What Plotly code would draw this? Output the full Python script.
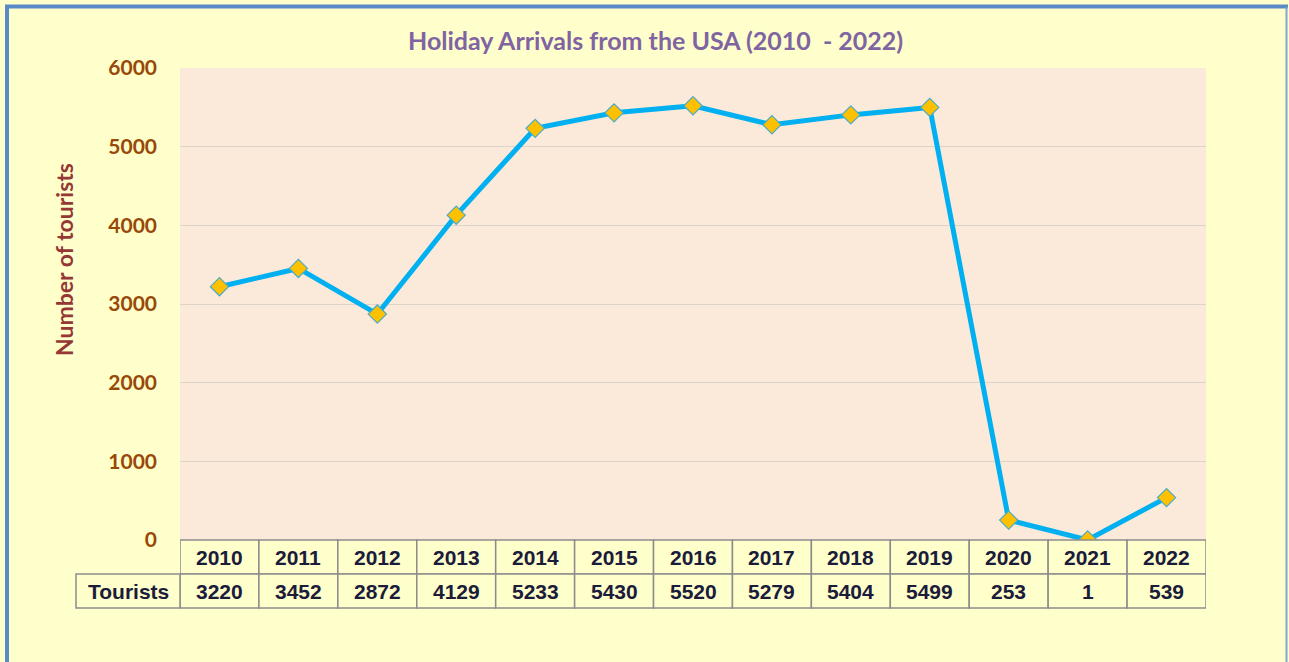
import plotly.graph_objects as go

years = ["2010", "2011", "2012", "2013", "2014", "2015", "2016", "2017", "2018", "2019", "2020", "2021", "2022"]
tourists = [3220, 3452, 2872, 4129, 5233, 5430, 5520, 5279, 5404, 5499, 253, 1, 539]
y_ticks = [0, 1000, 2000, 3000, 4000, 5000, 6000]
series_name = "Tourists"
title_text = "Holiday Arrivals from the USA (2010  - 2022)"
y_title = "Number of tourists"

W, H = 1289, 662
L, R, T, B = 180, 1206, 68, 540
pw, ph = R - L, B - T
n = len(years)
catw = pw / n

def px_to_paper_x(px):
    return (px - L) / pw

def px_to_paper_y(py):
    return (B - py) / ph

xs = list(range(n))

fig = go.Figure()
fig.add_trace(go.Scatter(
    x=xs, y=tourists, mode="lines+markers",
    line=dict(color="#00B0F0", width=5),
    marker=dict(symbol="diamond", size=14, color="#FFC000",
                line=dict(color="#4BACC6", width=1.2)),
    cliponaxis=False, showlegend=False, name=series_name,
))

shapes = []
annotations = []
row_h = 34
y0p = px_to_paper_y(B)
y1p = px_to_paper_y(B + row_h)
y2p = px_to_paper_y(B + 2 * row_h)
line_style = dict(color="#8C8C8C", width=1.5)
text_font = dict(family="Liberation Sans, Arial", size=21, color="#1B1B3A")

for i, (yr, v) in enumerate(zip(years, tourists)):
    shapes.append(dict(type="rect", xref="x", yref="paper", x0=i - 0.5, x1=i + 0.5,
                       y0=y1p, y1=y0p, line=line_style, fillcolor="#FFFFCC", layer="above"))
    shapes.append(dict(type="rect", xref="x", yref="paper", x0=i - 0.5, x1=i + 0.5,
                       y0=y2p, y1=y1p, line=line_style, fillcolor="#FFFFCC", layer="above"))
    annotations.append(dict(x=i, y=(y0p + y1p) / 2, xref="x", yref="paper", text=f"<b>{yr}</b>",
                            showarrow=False, font=text_font, xanchor="center", yanchor="middle"))
    annotations.append(dict(x=i, y=(y1p + y2p) / 2, xref="x", yref="paper", text=f"<b>{v}</b>",
                            showarrow=False, font=text_font, xanchor="center", yanchor="middle"))

lab_x0 = px_to_paper_x(76)
lab_x1 = px_to_paper_x(L)
shapes.append(dict(type="rect", xref="paper", yref="paper", x0=lab_x0, x1=lab_x1,
                   y0=y2p, y1=y1p, line=line_style, fillcolor="#FFFFCC", layer="above"))
annotations.append(dict(x=(lab_x0 + lab_x1) / 2, y=(y1p + y2p) / 2, xref="paper", yref="paper",
                        text=f"<b>{series_name}</b>", showarrow=False, font=text_font,
                        xanchor="center", yanchor="middle"))

# outer border
border_col = "#5B8AC8"
shapes.append(dict(type="line", xref="paper", yref="paper", x0=px_to_paper_x(5), x1=px_to_paper_x(1288),
                   y0=px_to_paper_y(6.5), y1=px_to_paper_y(6.5), line=dict(color=border_col, width=4)))
shapes.append(dict(type="line", xref="paper", yref="paper", x0=px_to_paper_x(7), x1=px_to_paper_x(7),
                   y0=px_to_paper_y(5), y1=px_to_paper_y(670), line=dict(color=border_col, width=4)))
shapes.append(dict(type="line", xref="paper", yref="paper", x0=px_to_paper_x(1286.5), x1=px_to_paper_x(1286.5),
                   y0=px_to_paper_y(7), y1=px_to_paper_y(670), line=dict(color="#7FA6D6", width=2)))

annotations.append(dict(x=px_to_paper_x(655), y=px_to_paper_y(40), xref="paper", yref="paper",
                        text=f"<b>{title_text}</b>", showarrow=False,
                        font=dict(family="Lato, Open Sans", size=25, color="#8064A2"),
                        xanchor="center", yanchor="middle"))
annotations.append(dict(x=px_to_paper_x(64), y=px_to_paper_y(260), xref="paper", yref="paper",
                        text=f"<b>{y_title}</b>", showarrow=False, textangle=-90,
                        font=dict(family="Lato, Open Sans", size=23, color="#953735"),
                        xanchor="center", yanchor="middle"))

fig.update_layout(
    width=W, height=H,
    margin=dict(l=L, r=W - R, t=T, b=H - B, pad=0),
    paper_bgcolor="#FFFFCC", plot_bgcolor="#FBE9DA",
    shapes=shapes, annotations=annotations,
    xaxis=dict(range=[-0.5, n - 0.5], showticklabels=False, showgrid=False,
               zeroline=False, showline=False, ticks="", fixedrange=True),
    yaxis=dict(range=[0, 6000], tickvals=y_ticks, ticktext=[f"<b>{t}</b>" for t in y_ticks],
               tickfont=dict(family="Lato, Open Sans", size=21, color="#984807"),
               showgrid=True, gridcolor="#DDD3C9", gridwidth=1, zeroline=False,
               showline=False, ticks="", ticklabelstandoff=22),
)

fig.write_html("out.html", config={"displayModeBar": False},
               post_script="document.body.style.margin='0';document.body.style.overflow='hidden';")
